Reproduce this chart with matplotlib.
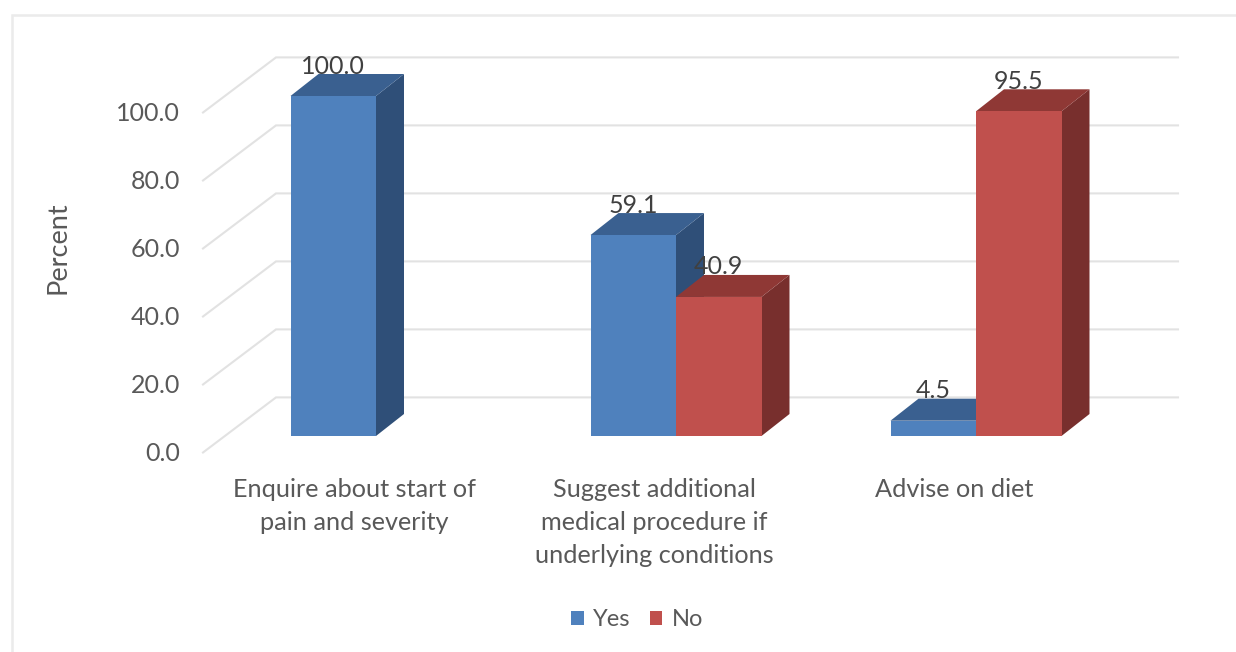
import matplotlib
matplotlib.use('Agg')
import matplotlib.pyplot as plt
from matplotlib.patches import Patch, Polygon, Rectangle

categories = ['Enquire about start of\npain and severity',
              'Suggest additional\nmedical procedure if\nunderlying conditions',
              'Advise on diet']
yes_values = [100.0, 59.1, 4.5]
no_values = [0.0, 40.9, 95.5]
yticks = [0, 20, 40, 60, 80, 100]

W, H = 1236, 652
# pixels per unit on each axis, x unit = one category
PX_X = 300.0
PX_Y = 3.4
BAR_W = 85.5 / PX_X
DEPTH_X = 28 / PX_X
DEPTH_Y = 22 / PX_Y
# back wall sits above the bar baseline, side wall starts below it
WALL_RISE = 38.6 / PX_Y
SIDE_DROP = 16.5 / PX_Y

BLUE = ('#4f81bd', '#3a6090', '#2f4f78')
RED = ('#c0504d', '#8f3835', '#782f2d')
TEXT = '#595959'
GRID = '#e2e2e2'

plt.rcParams['font.family'] = ['Lato', 'DejaVu Sans']

fig = plt.figure(figsize=(W / 100, H / 100), dpi=100)
ax = fig.add_axes([0, 0, 1, 1])
ax.set_xlim(-376 / PX_X, (W - 376) / PX_X)
ax.set_ylim(-(H - 436) / PX_Y, 436 / PX_Y)
ax.axis('off')

# outer chart frame, runs off the right and bottom edges
fig.add_artist(Rectangle((12 / W, -0.1), 1.1, 1.1 - 15 / H, transform=fig.transFigure,
                         fill=False, ec='#ebebeb', lw=1.8))

wall_x0 = (276 - 376) / PX_X
wall_x1 = (1178 - 376) / PX_X
left_x = wall_x0 - 73 / PX_X


def draw_bar(x, value, colors):
    x1 = x + BAR_W
    top = value
    ax.add_patch(Polygon([(x1, 0), (x1 + DEPTH_X, DEPTH_Y), (x1 + DEPTH_X, top + DEPTH_Y), (x1, top)],
                         fc=colors[2], ec='none', zorder=3))
    ax.add_patch(Polygon([(x, top), (x + DEPTH_X, top + DEPTH_Y), (x1 + DEPTH_X, top + DEPTH_Y), (x1, top)],
                         fc=colors[1], ec='none', zorder=3))
    ax.add_patch(Rectangle((x, 0), BAR_W, top, fc=colors[0], ec='none', zorder=3))


# gridlines on the back wall and the slanted side wall
for t in yticks:
    y_back = t + WALL_RISE
    y_side = t - SIDE_DROP
    ax.plot([left_x, wall_x0, wall_x1], [y_side, y_back, y_back], color=GRID, lw=1.5, zorder=1,
            solid_joinstyle='miter')
    ax.annotate(f'{t:.1f}', (left_x, y_side), xytext=(-23 * 0.72, -1), textcoords='offset points',
                ha='right', va='center', fontsize=18, color=TEXT)

for i in range(len(categories)):
    draw_bar(i - BAR_W, yes_values[i], BLUE)
    ax.annotate(f'{yes_values[i]:.1f}', (i - BAR_W / 2, yes_values[i]), xytext=(0, 30 * 0.72),
                textcoords='offset points', ha='center', va='center', fontsize=18, color='#404040', zorder=5)
    if no_values[i] > 0:
        draw_bar(i, no_values[i], RED)
        ax.annotate(f'{no_values[i]:.1f}', (i + BAR_W / 2, no_values[i]), xytext=(0, 30 * 0.72),
                    textcoords='offset points', ha='center', va='center', fontsize=18, color='#404040', zorder=5)
    ax.annotate(categories[i], (i, 0), xytext=(-22 * 0.72, -42 * 0.72), textcoords='offset points',
                ha='center', va='top', fontsize=18.2, color=TEXT, linespacing=1.52, multialignment='center')

ax.text(58 / W, 1 - 248 / H, 'Percent', transform=ax.transAxes, rotation=90,
        ha='center', va='center', fontsize=19.5, color=TEXT)

handles = [Patch(fc=BLUE[0], label='Yes'), Patch(fc=RED[0], label='No')]
ax.legend(handles=handles, loc='center', bbox_to_anchor=(637 / W, 1 - 620 / H), ncol=2, frameon=False,
          fontsize=17, labelcolor=TEXT, handlelength=0.55, handleheight=0.55, handletextpad=0.38,
          columnspacing=0.8, borderpad=0)

fig.savefig('out.png', dpi=100)
